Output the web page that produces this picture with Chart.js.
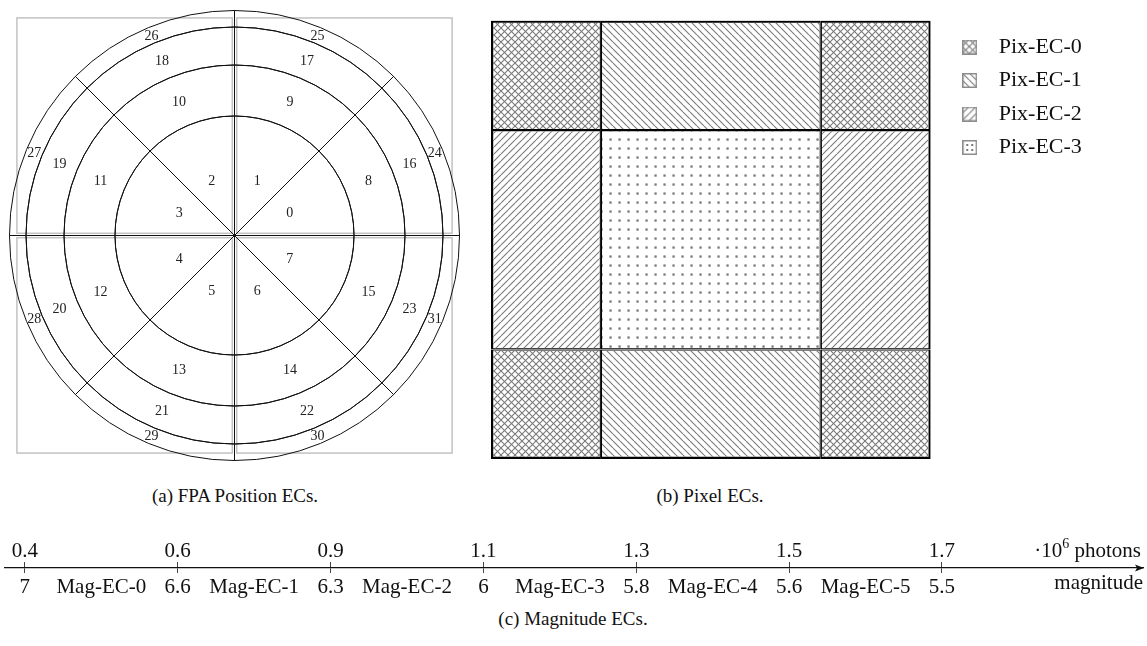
<!DOCTYPE html>
<html><head><meta charset="utf-8">
<script src="https://cdn.jsdelivr.net/npm/chart.js@4.4.1/dist/chart.umd.min.js"></script>
<style>
html,body{margin:0;padding:0;background:#fff;width:1147px;height:646px;overflow:hidden;}
.box{position:absolute;}
.cap{position:absolute;font-family:"Liberation Serif",serif;font-size:19px;color:#111;white-space:nowrap;transform:translateX(-50%);line-height:22px;}
</style></head><body>
<div class="box" style="left:0;top:0;width:469px;height:471px"><canvas id="fpa"></canvas></div>
<div class="box" style="left:480px;top:0;width:667px;height:480px"><canvas id="pix"></canvas></div>
<div class="box" style="left:0;top:528px;width:1147px;height:80px"><canvas id="mag"></canvas></div>
<div class="cap" style="left:235px;top:485px">(a) FPA Position ECs.</div>
<div class="cap" style="left:710px;top:485px">(b) Pixel ECs.</div>
<div class="cap" style="left:573px;top:608px">(c) Magnitude ECs.</div>
<script>
// ---------- (a) FPA position ECs: rings from outside to inside ----------
const ringOuterIds = [24,25,26,27,28,29,30,31];
const ring3Ids = [16,17,18,19,20,21,22,23];
const ring2Ids = [8,9,10,11,12,13,14,15];
const innerIds = [0,1,2,3,4,5,6,7];
const sectorShare = [1,1,1,1,1,1,1,1]; // eight equal 45° sectors
// ---------- (b) Pixel ECs: cells [colStart, colEnd, row] on a 4-column grid, rows 0..2 ----------
const pixNames = ['Pix-EC-0','Pix-EC-1','Pix-EC-2','Pix-EC-3'];
const pixEC0 = [[0,1,0],[3,4,0],[0,1,2],[3,4,2]];
const pixEC1 = [[1,3,0],[1,3,2]];
const pixEC2 = [[0,1,1],[3,4,1]];
const pixEC3 = [[1,3,1]];
// ---------- (c) Magnitude ECs ----------
const photonTicks = ['0.4','0.6','0.9','1.1','1.3','1.5','1.7'];
const magnitudeTicks = ['7','6.6','6.3','6','5.8','5.6','5.5'];
const magClasses = ['Mag-EC-0','Mag-EC-1','Mag-EC-2','Mag-EC-3','Mag-EC-4','Mag-EC-5'];

const SERIF = '"Liberation Serif", "Times New Roman", serif';

// ===== chart (a) =====
const clockwise = ids => ids.slice().reverse();
const ringStyle = {backgroundColor:'rgba(0,0,0,0)', borderColor:'#111', borderWidth:1, hoverOffset:0};
const squaresPlugin = {
  id:'ccdSquares',
  beforeDatasetsDraw(chart){
    const arc = chart.getDatasetMeta(0).data[0]; if(!arc) return;
    const {x:cx, y:cy, outerRadius:R} = arc.getProps(['x','y','outerRadius'], true);
    const ctx = chart.ctx; ctx.save();
    ctx.strokeStyle = '#c2c2c2'; ctx.lineWidth = 1.5;
    const s = R*0.967, g = 2.2;
    [[1,-1],[-1,-1],[-1,1],[1,1]].forEach(([sx,sy])=>{
      const x0 = cx+sx*g, x1 = cx+sx*s, y0 = cy+sy*g, y1 = cy+sy*s;
      ctx.strokeRect(Math.min(x0,x1), Math.min(y0,y1), Math.abs(x1-x0), Math.abs(y1-y0));
    });
    ctx.restore();
  }
};
const ringLabelPlugin = {
  id:'ringLabels',
  afterDatasetsDraw(chart){
    const ctx = chart.ctx; ctx.save();
    ctx.font = '14px ' + SERIF; ctx.fillStyle = '#222';
    ctx.textAlign = 'center'; ctx.textBaseline = 'middle';
    chart.data.datasets.forEach((ds, di)=>{
      chart.getDatasetMeta(di).data.forEach((arc, i)=>{
        const p = arc.tooltipPosition(true);
        ctx.fillText(String(ds.sectorIds[i]), p.x, p.y + 1);
      });
    });
    ctx.restore();
  }
};
new Chart(document.getElementById('fpa'), {
  type:'doughnut',
  data:{
    labels: innerIds.map(String),
    datasets:[
      {data: sectorShare, sectorIds: clockwise(ringOuterIds), weight:16.5, ...ringStyle},
      {data: sectorShare, sectorIds: clockwise(ring3Ids), weight:38, ...ringStyle},
      {data: sectorShare, sectorIds: clockwise(ring2Ids), weight:51, ...ringStyle},
      {data: sectorShare, sectorIds: clockwise(innerIds), weight:119.5, ...ringStyle}
    ]
  },
  options:{
    responsive:true, maintainAspectRatio:false, animation:false, events:[],
    cutout:0, radius:225, rotation:90,
    layout:{padding:0},
    plugins:{legend:{display:false}, tooltip:{enabled:false}}
  },
  plugins:[squaresPlugin, ringLabelPlugin]
});

// ===== chart (b) =====
const pixCtx = document.getElementById('pix').getContext('2d');
function makeTile(kind){
  const s = kind==='dots' ? 9 : 7;
  const c = document.createElement('canvas'); c.width = s; c.height = s;
  const g = c.getContext('2d');
  g.strokeStyle = '#7a7a7a'; g.fillStyle = '#7a7a7a'; g.lineWidth = 1.1;
  if(kind==='dots'){ g.fillRect(3.4,3.4,2.3,2.3); }
  else{
    if(kind==='cross' || kind==='ne'){
      g.beginPath(); for(let o=-s;o<=s;o+=s){ g.moveTo(o,s); g.lineTo(o+s,0); } g.stroke();
    }
    if(kind==='cross' || kind==='nw'){
      g.beginPath(); for(let o=-s;o<=s;o+=s){ g.moveTo(o,0); g.lineTo(o+s,s); } g.stroke();
    }
  }
  return c;
}
const tiles = ['cross','nw','ne','dots'].map(makeTile);
const patterns = tiles.map(t => pixCtx.createPattern(t,'repeat'));
function makeIcon(i){
  const c = document.createElement('canvas'); c.width = 15; c.height = 15;
  const g = c.getContext('2d');
  if(i === 3){ g.fillStyle = '#7a7a7a'; [[4,4],[9,4],[4,9],[9,9]].forEach(([x,y])=>g.fillRect(x,y,2,2)); }
  else { g.fillStyle = g.createPattern(tiles[i],'repeat'); g.fillRect(1,1,13,13); }
  g.strokeStyle = '#8c8c8c'; g.lineWidth = 1.5; g.strokeRect(0.75,0.75,13.5,13.5);
  return c;
}
const icons = [0,1,2,3].map(makeIcon);
const toBars = cells => cells.map(c => ({x:[c[0],c[1]], y:c[2]}));
const cellBorder = ctx => {
  const r = ctx.raw; if(!r || !r.x) return 1;
  return {left: r.x[0]===0?2.2:1.1, right: r.x[1]===4?2.2:1.1, top: r.y===0?2.2:1.1, bottom: r.y===2?2.2:1.1};
};
const barStyle = (i, thick) => ({
  label: pixNames[i], backgroundColor: patterns[i], borderColor:'#000', borderWidth: cellBorder,
  borderSkipped:false, inflateAmount:0, stack:'grid', barThickness: thick
});
new Chart(pixCtx, {
  type:'bar',
  data:{
    datasets:[
      {data: toBars(pixEC0), ...barStyle(0, 109.6)},
      {data: toBars(pixEC1), ...barStyle(1, 109.6)},
      {data: toBars(pixEC2), ...barStyle(2, 219.3)},
      {data: toBars(pixEC3), ...barStyle(3, 219.3)}
    ]
  },
  options:{
    indexAxis:'y', responsive:true, maintainAspectRatio:false, animation:false, events:[],
    layout:{padding:{left:11, top:20.5, bottom:21, right:57}},
    scales:{
      x:{type:'linear', min:0, max:4, stacked:false, display:false, offset:false},
      y:{type:'linear', min:-1/3, max:7/3, reverse:true, offset:false, position:'right', display:true,
         ticks:{display:false}, grid:{display:false}, border:{display:false},
         afterFit: s => { s.width = 9.5; }}
    },
    plugins:{
      tooltip:{enabled:false},
      legend:{
        display:true, position:'right', align:'start',
        title:{display:true, text:' ', font:{size:2}, padding:{top:0, bottom:1.6}},
        labels:{
          font:{family:SERIF, size:22}, color:'#111', padding:11.5,
          usePointStyle:true, pointStyleWidth:36, boxHeight:22,
          generateLabels: chart => Chart.defaults.plugins.legend.labels.generateLabels(chart)
            .map((l, i) => ({...l, pointStyle: icons[i], strokeStyle:'#8c8c8c', lineWidth:0}))
        }
      }
    }
  }
});

// ===== chart (c) =====
const lowerLabels = [], upperLabels = [];
magnitudeTicks.forEach((m,i)=>{
  lowerLabels.push(m); upperLabels.push(photonTicks[i]);
  if(i < magClasses.length){ lowerLabels.push(magClasses[i]); upperLabels.push(''); }
});
const isSlot = v => Number.isInteger(v) && v >= 0 && v < lowerLabels.length;
const FS = 21;
const axisDecor = {
  id:'axisDecor',
  afterDraw(chart){
    const ctx = chart.ctx; const xs = chart.scales.x; const xt = chart.scales.xTop;
    const yLine = xs.top; const right = chart.chartArea.right;
    ctx.save();
    ctx.fillStyle = '#111';
    ctx.beginPath();
    ctx.moveTo(right+1, yLine); ctx.lineTo(right-8, yLine-3.6); ctx.lineTo(right-6, yLine); ctx.lineTo(right-8, yLine+3.6);
    ctx.closePath(); ctx.fill();
    ctx.font = FS + 'px ' + SERIF; ctx.textBaseline = 'middle'; ctx.textAlign = 'left';
    const yTop = xt.bottom - 5 + 2.4 - FS*0.6;
    const p1 = '\u00b710', p2 = '6', p3 = ' photons';
    const w1 = ctx.measureText(p1).width, w3 = ctx.measureText(p3).width;
    ctx.font = '14px ' + SERIF; const w2 = ctx.measureText(p2).width;
    let x = right - 2 - w1 - w2 - w3;
    ctx.font = FS + 'px ' + SERIF; ctx.fillText(p1, x, yTop); x += w1;
    ctx.font = '14px ' + SERIF; ctx.fillText(p2, x, yTop - 7); x += w2;
    ctx.font = FS + 'px ' + SERIF; ctx.fillText(p3, x, yTop);
    ctx.textAlign = 'right';
    ctx.fillText('magnitude', right, yLine + 15);
    ctx.restore();
  }
};
const tickColor = c => (c.tick && isSlot(c.tick.value) && c.tick.value % 2 === 0) ? '#444' : 'rgba(0,0,0,0)';
const commonTicks = {stepSize:1, autoSkip:false, maxRotation:0, minRotation:0, maxTicksLimit:100,
  includeBounds:false, font:{family:SERIF, size:FS}, color:'#111'};
new Chart(document.getElementById('mag'), {
  type:'scatter',
  data:{datasets:[{data:[]}]},
  options:{
    responsive:true, maintainAspectRatio:false, animation:false, events:[],
    layout:{padding:{left:5, right:4, top:0, bottom:0}},
    scales:{
      xTop:{type:'linear', position:'top', min:-0.26, max:14.63, axis:'x',
        ticks:{...commonTicks, padding:-2.4, callback: v => isSlot(v) ? upperLabels[v] : ''},
        grid:{drawOnChartArea:false, drawTicks:true, tickLength:5, color:tickColor, lineWidth:1},
        border:{display:false},
        afterFit: s => { s.height = 39; }},
      x:{type:'linear', position:'bottom', min:-0.26, max:14.63,
        ticks:{...commonTicks, padding:1.4, callback: v => isSlot(v) ? lowerLabels[v] : ''},
        grid:{drawOnChartArea:false, drawTicks:true, tickLength:5, color:tickColor, lineWidth:1},
        border:{display:true, color:'#111', width:1.3},
        afterFit: s => { s.height = 40; }},
      y:{display:false, min:0, max:1}
    },
    plugins:{legend:{display:false}, tooltip:{enabled:false}}
  },
  plugins:[axisDecor]
});
</script>
</body></html>
